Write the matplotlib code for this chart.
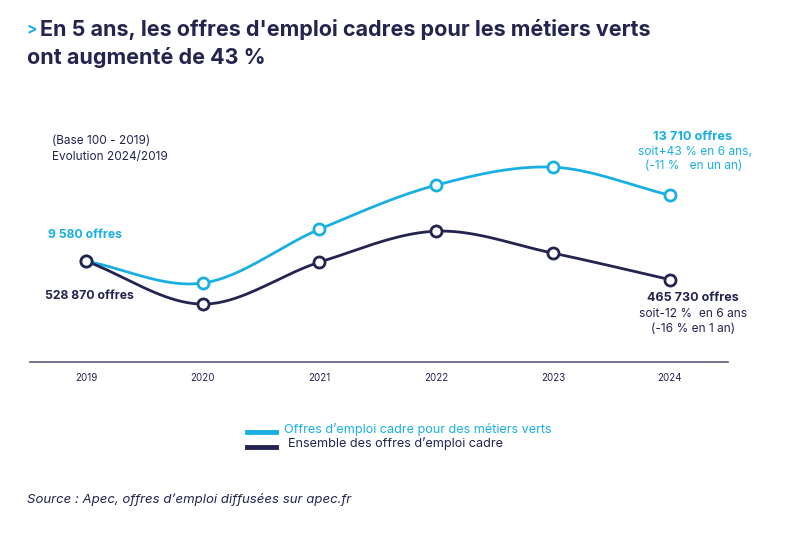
import matplotlib
matplotlib.use('Agg')
import matplotlib.pyplot as plt
import numpy as np

plt.rcParams['font.family'] = ['Inter', 'DejaVu Sans']

# ── data (base 100 = 2019) ───────────────────────────────────────────────────
years = ['2019', '2020', '2021', '2022', '2023', '2024']
green_jobs = [100, 85.7, 120.8, 149.5, 161.2, 143]
all_jobs = [100, 72, 99.3, 119.5, 105.2, 88]
green_label = "Offres d\u2019emploi cadre pour des métiers verts"
all_label = "Ensemble des offres d\u2019emploi cadre"

CYAN = '#1AAFE3'
NAVY = '#23244F'


def smooth(x, y, n=40):
    # Catmull-Rom spline through the points, for a rounded curve
    x = np.asarray(x, float)
    y = np.asarray(y, float)
    px = np.concatenate([[2 * x[0] - x[1]], x, [2 * x[-1] - x[-2]]])
    py = np.concatenate([[2 * y[0] - y[1]], y, [2 * y[-1] - y[-2]]])
    xs, ys = [], []
    t = np.linspace(0, 1, n)
    for i in range(1, len(px) - 2):
        for p, out in ((px, xs), (py, ys)):
            p0, p1, p2, p3 = p[i - 1], p[i], p[i + 1], p[i + 2]
            out.extend(0.5 * (2 * p1 + (-p0 + p2) * t
                              + (2 * p0 - 5 * p1 + 4 * p2 - p3) * t ** 2
                              + (-p0 + 3 * p1 - 3 * p2 + p3) * t ** 3))
    return np.array(xs), np.array(ys)


fig = plt.figure(figsize=(8, 5.47), dpi=100)
fig.patch.set_facecolor('white')
ax = fig.add_axes([0.0375, 0.338, 0.8725, 0.424])

x = np.arange(len(years))
for vals, col, lab in ((green_jobs, CYAN, green_label), (all_jobs, NAVY, all_label)):
    sx, sy = smooth(x, vals)
    ax.plot(sx, sy, color=col, linewidth=2, solid_capstyle='round', zorder=2)
    ax.plot(x, vals, 'o', markersize=8, markerfacecolor='white',
            markeredgecolor=col, markeredgewidth=2, zorder=3)

ax.set_xlim(-0.48, 5.5)
ax.set_ylim(34.2, 185.3)
ax.set_xticks(x)
ax.set_xticklabels(years, fontsize=7, color=NAVY)
ax.tick_params(axis='x', length=0, pad=8)
ax.set_yticks([])
for s in ('top', 'right', 'left'):
    ax.spines[s].set_visible(False)
ax.spines['bottom'].set_color('#5A5C7A')
ax.spines['bottom'].set_linewidth(1.2)

# ── title ────────────────────────────────────────────────────────────────────
fig.text(27 / 800, 1 - 30 / 547, '>', color=CYAN, fontsize=11, fontweight='bold', va='center')
fig.text(40 / 800, 1 - 30 / 547, "En 5 ans, les offres d'emploi cadres pour les métiers verts",
         color=NAVY, fontsize=15.5, fontweight='bold', va='center')
fig.text(27 / 800, 1 - 57 / 547, "ont augmenté de 43 %",
         color=NAVY, fontsize=15.5, fontweight='bold', va='center')

# ── annotations ──────────────────────────────────────────────────────────────
def ftxt(px, py, s, **kw):
    fig.text(px / 800, 1 - py / 547, s, va='center', **kw)

ftxt(52, 141, '(Base 100 - 2019)', color=NAVY, fontsize=8.5)
ftxt(52, 157, 'Evolution 2024/2019', color=NAVY, fontsize=8.5)
ftxt(48, 235, '9 580 offres', color=CYAN, fontsize=8.8, fontweight='bold')
ftxt(45, 296, '528 870 offres', color=NAVY, fontsize=8.8, fontweight='bold')
ftxt(693, 137, '13 710 offres', color=CYAN, fontsize=9.2, fontweight='bold', ha='center')
ftxt(695, 152, 'soit+43 % en 6 ans,', color=CYAN, fontsize=8.6, ha='center')
ftxt(694, 166, '(-11 %   en un an)', color=CYAN, fontsize=8.6, ha='center')
ftxt(693, 298, '465 730 offres', color=NAVY, fontsize=9, fontweight='bold', ha='center')
ftxt(693, 314, 'soit-12 %  en 6 ans', color=NAVY, fontsize=8.6, ha='center')
ftxt(693, 329, '(-16 % en 1 an)', color=NAVY, fontsize=8.6, ha='center')

# ── legend ───────────────────────────────────────────────────────────────────
for py, col, lab, tx in ((432, CYAN, green_label, 284), (447, NAVY, all_label, 288)):
    fig.add_artist(plt.Line2D([247 / 800, 276 / 800], [1 - py / 547, 1 - py / 547],
                              color=col, linewidth=3.5))
    ftxt(tx, py - 3, lab, color=col, fontsize=9.1)

ftxt(27, 500, "Source : Apec, offres d\u2019emploi diffusées sur apec.fr",
     color=NAVY, fontsize=9.5, style='italic')

fig.savefig('out.png', dpi=100, facecolor='white')
